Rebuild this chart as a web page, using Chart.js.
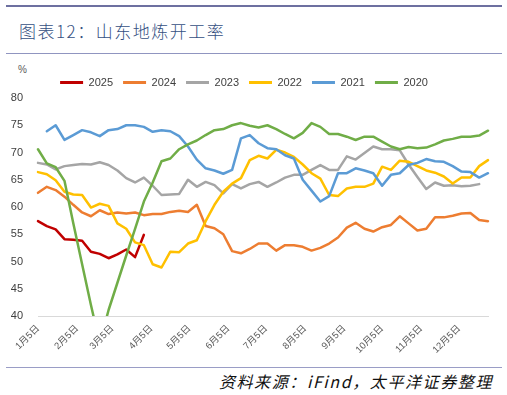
<!DOCTYPE html>
<html>
<head>
<meta charset="utf-8">
<script src="https://cdn.jsdelivr.net/npm/chart.js@4/dist/chart.umd.min.js"></script>
<style>
  body { margin: 0; background: #fff; width: 507px; height: 395px; position: relative; overflow: hidden;
         font-family: "Liberation Sans", "Noto Sans CJK SC", sans-serif; }
  .rule-top { position: absolute; left: 6px; top: 5px; width: 496px; height: 2px; background: #6d70a0; }
  .title { position: absolute; left: 19px; top: 21px; line-height: 20px; font-family: "Noto Sans CJK SC"; font-size: 17px;
           font-weight: 300; letter-spacing: 1.5px; color: #34507f; white-space: nowrap; }
  .rule-mid { position: absolute; left: 6px; top: 53px; width: 496px; height: 1px; background: #9095c0; }
  .unit { position: absolute; left: 18px; top: 64px; font-size: 10px; line-height: 12px; color: #595959; }
  #wrap { position: absolute; left: 0; top: 58px; width: 507px; height: 307px; }
  .rule-bot { position: absolute; left: 6px; top: 367px; width: 496px; height: 1px; background: #9a9dc6; }
  .source { position: absolute; right: 14px; top: 372px; line-height: 18px; font-family: "Noto Sans CJK SC"; font-size: 16px;
            font-style: italic; letter-spacing: 1.6px; color: #111; white-space: nowrap; }
</style>
</head>
<body>
<div class="rule-top"></div>
<div class="title">图表12：山东地炼开工率</div>
<div class="rule-mid"></div>
<div class="unit">%</div>
<div id="wrap"><canvas id="myChart" width="507" height="307"></canvas></div>
<div class="rule-bot"></div>
<div class="source">资料来源：iFind，太平洋证券整理</div>

<script>
// weekly readings, first point = 1月5日, one value per week
const years = ["2025", "2024", "2023", "2022", "2021", "2020"];

const v2025 = [57.4, 56.5, 55.9, 54.1, 54.0, 53.8, 51.8, 51.4, 50.6, 51.3, 52.2, 50.8, 54.9];

const v2024 = [62.6, 63.7, 63.1, 61.9, 60.4, 59.0, 58.3, 59.4, 58.7, 59.0,
  58.8, 59.0, 58.5, 58.7, 58.7, 59.1, 59.3, 59.1, 60.4, 56.5,
  56.1, 55.0, 51.9, 51.5, 52.3, 53.3, 53.3, 52.0, 53.0, 53.0,
  52.7, 52.0, 52.5, 53.3, 54.4, 56.2, 57.1, 56.0, 55.5, 56.3,
  56.7, 58.3, 57.0, 55.7, 56.0, 58.1, 58.1, 58.4, 58.8, 58.9,
  57.6, 57.4];

const v2023 = [68.1, 67.8, 66.9, 67.5, 67.7, 67.9, 67.8, 68.2, 67.7, 66.7,
  65.3, 64.5, 65.4, 63.9, 62.2, 62.3, 62.4, 65.0, 63.7, 64.6,
  64.0, 62.5, 64.2, 63.4, 64.2, 64.6, 63.7, 64.5, 65.4, 65.9,
  65.9, 66.8, 67.7, 66.8, 66.8, 69.3, 68.7, 69.9, 71.1, 70.6,
  70.6, 70.4, 67.8, 65.5, 63.3, 64.5, 63.9, 64.0, 63.8, 63.9,
  64.2];

const v2022 = [66.4, 66.0, 64.9, 62.8, 62.3, 62.2, 59.9, 60.6, 60.2, 57.0,
  56.0, 53.5, 53.0, 49.5, 48.9, 51.8, 51.7, 53.3, 53.9, 57.4,
  60.4, 62.8, 64.3, 65.3, 68.6, 69.4, 68.9, 70.5, 70.0, 69.2,
  67.8, 66.2, 65.2, 62.2, 62.0, 63.4, 63.7, 63.7, 64.3, 67.4,
  66.8, 68.5, 68.3, 67.5, 66.7, 66.3, 65.6, 64.3, 65.4, 65.4,
  67.5, 68.6];

const v2021 = [null, 73.9, 75.0, 72.3, 73.2, 74.1, 73.7, 73.0, 74.1, 74.3,
  75.0, 75.0, 74.7, 73.8, 74.1, 73.9, 73.0, 71.1, 68.7, 67.1,
  66.7, 66.1, 66.8, 72.6, 73.2, 71.7, 70.8, 70.6, 69.5, 68.9,
  65.0, 63.0, 61.0, 62.0, 66.2, 66.2, 67.1, 66.7, 66.2, 63.9,
  65.9, 66.2, 67.7, 68.1, 68.8, 68.4, 68.3, 67.5, 66.5, 66.4,
  65.4, 66.2];

const v2020 = [70.6, 68.0, 67.3, 64.8, 57.0, 49.5, 42.0, 35.0, 41.1, 46.1,
  51.1, 56.0, 61.0, 64.5, 68.4, 68.9, 70.6, 71.5, 72.2, 73.2,
  74.1, 74.3, 75.0, 75.4, 74.9, 74.6, 75.0, 74.3, 73.4, 72.6,
  73.6, 75.4, 74.7, 73.4, 73.4, 72.9, 72.3, 72.9, 72.9, 72.0,
  71.1, 70.6, 71.0, 70.8, 70.9, 71.5, 72.2, 72.5, 72.9, 72.9,
  73.1, 74.0];

// x axis ticks: days after 1月5日
const tickDays = [0, 31, 59, 90, 120, 151, 181, 212, 243, 273, 304, 334];
const tickLabels = ["1月5日", "2月5日", "3月5日", "4月5日", "5月5日", "6月5日",
  "7月5日", "8月5日", "9月5日", "10月5日", "11月5日", "12月5日"];

const allValues = [v2025, v2024, v2023, v2022, v2021, v2020];
const lineColors = ["#C00000", "#ED7D31", "#A5A5A5", "#FFC000", "#5B9BD5", "#70AD47"];

const toPoints = (vals) => vals.map((v, i) => ({ x: i * 7, y: v }));

const datasets = years.map((y, k) => ({
  label: y,
  data: toPoints(allValues[k]),
  borderColor: lineColors[k],
  backgroundColor: lineColors[k],
  borderWidth: 2.5,
  pointRadius: 0,
  tension: 0,
  borderJoinStyle: "round",
  borderCapStyle: "round",
  order: years.length - k, // later years drawn on top, like the excel original
  clip: { left: 4, right: 4, top: 4, bottom: 0 },
}));

const config = {
  type: "line",
  data: { datasets: datasets },
  options: {
    responsive: false,
    animation: false,
    devicePixelRatio: 1,
    layout: { padding: { top: 9, right: 19, left: 0, bottom: 0 } },
    plugins: {
      tooltip: { enabled: false },
      legend: {
        position: "top",
        labels: {
          boxWidth: 23,
          boxHeight: 3,
          padding: 10,
          color: "#404040",
          font: { family: "'Liberation Sans', Arial, sans-serif", size: 11 },
          sort: (a, b) => a.datasetIndex - b.datasetIndex,
          generateLabels: (chart) =>
            Chart.defaults.plugins.legend.labels.generateLabels(chart).map((l) => ({
              ...l,
              lineWidth: 0,
              fillStyle: l.strokeStyle,
            })),
        },
      },
    },
    scales: {
      x: {
        type: "linear",
        min: 0,
        max: 357,
        grid: { display: false, drawTicks: false },
        border: { display: true, color: "#d9d9d9", width: 1 },
        afterFit: (s) => { s.height = 49; },
        afterBuildTicks: (s) => { s.ticks = tickDays.map((d) => ({ value: d })); },
        ticks: {
          autoSkip: false,
          maxRotation: 45,
          minRotation: 45,
          padding: 7,
          color: "#595959",
          font: { family: "'Liberation Sans', 'Noto Sans CJK SC', sans-serif", size: 9.5 },
          callback: (v) => tickLabels[tickDays.indexOf(v)],
        },
      },
      y: {
        min: 40,
        max: 80,
        grid: { display: false, drawTicks: false },
        border: { display: false },
        afterFit: (s) => { s.width = 38; },
        ticks: {
          stepSize: 5,
          padding: 15,
          color: "#404040",
          font: { family: "'Liberation Sans', Arial, sans-serif", size: 11 },
        },
      },
    },
  },
};

const myChart = new Chart(document.getElementById("myChart"), config);
</script>
</body>
</html>
